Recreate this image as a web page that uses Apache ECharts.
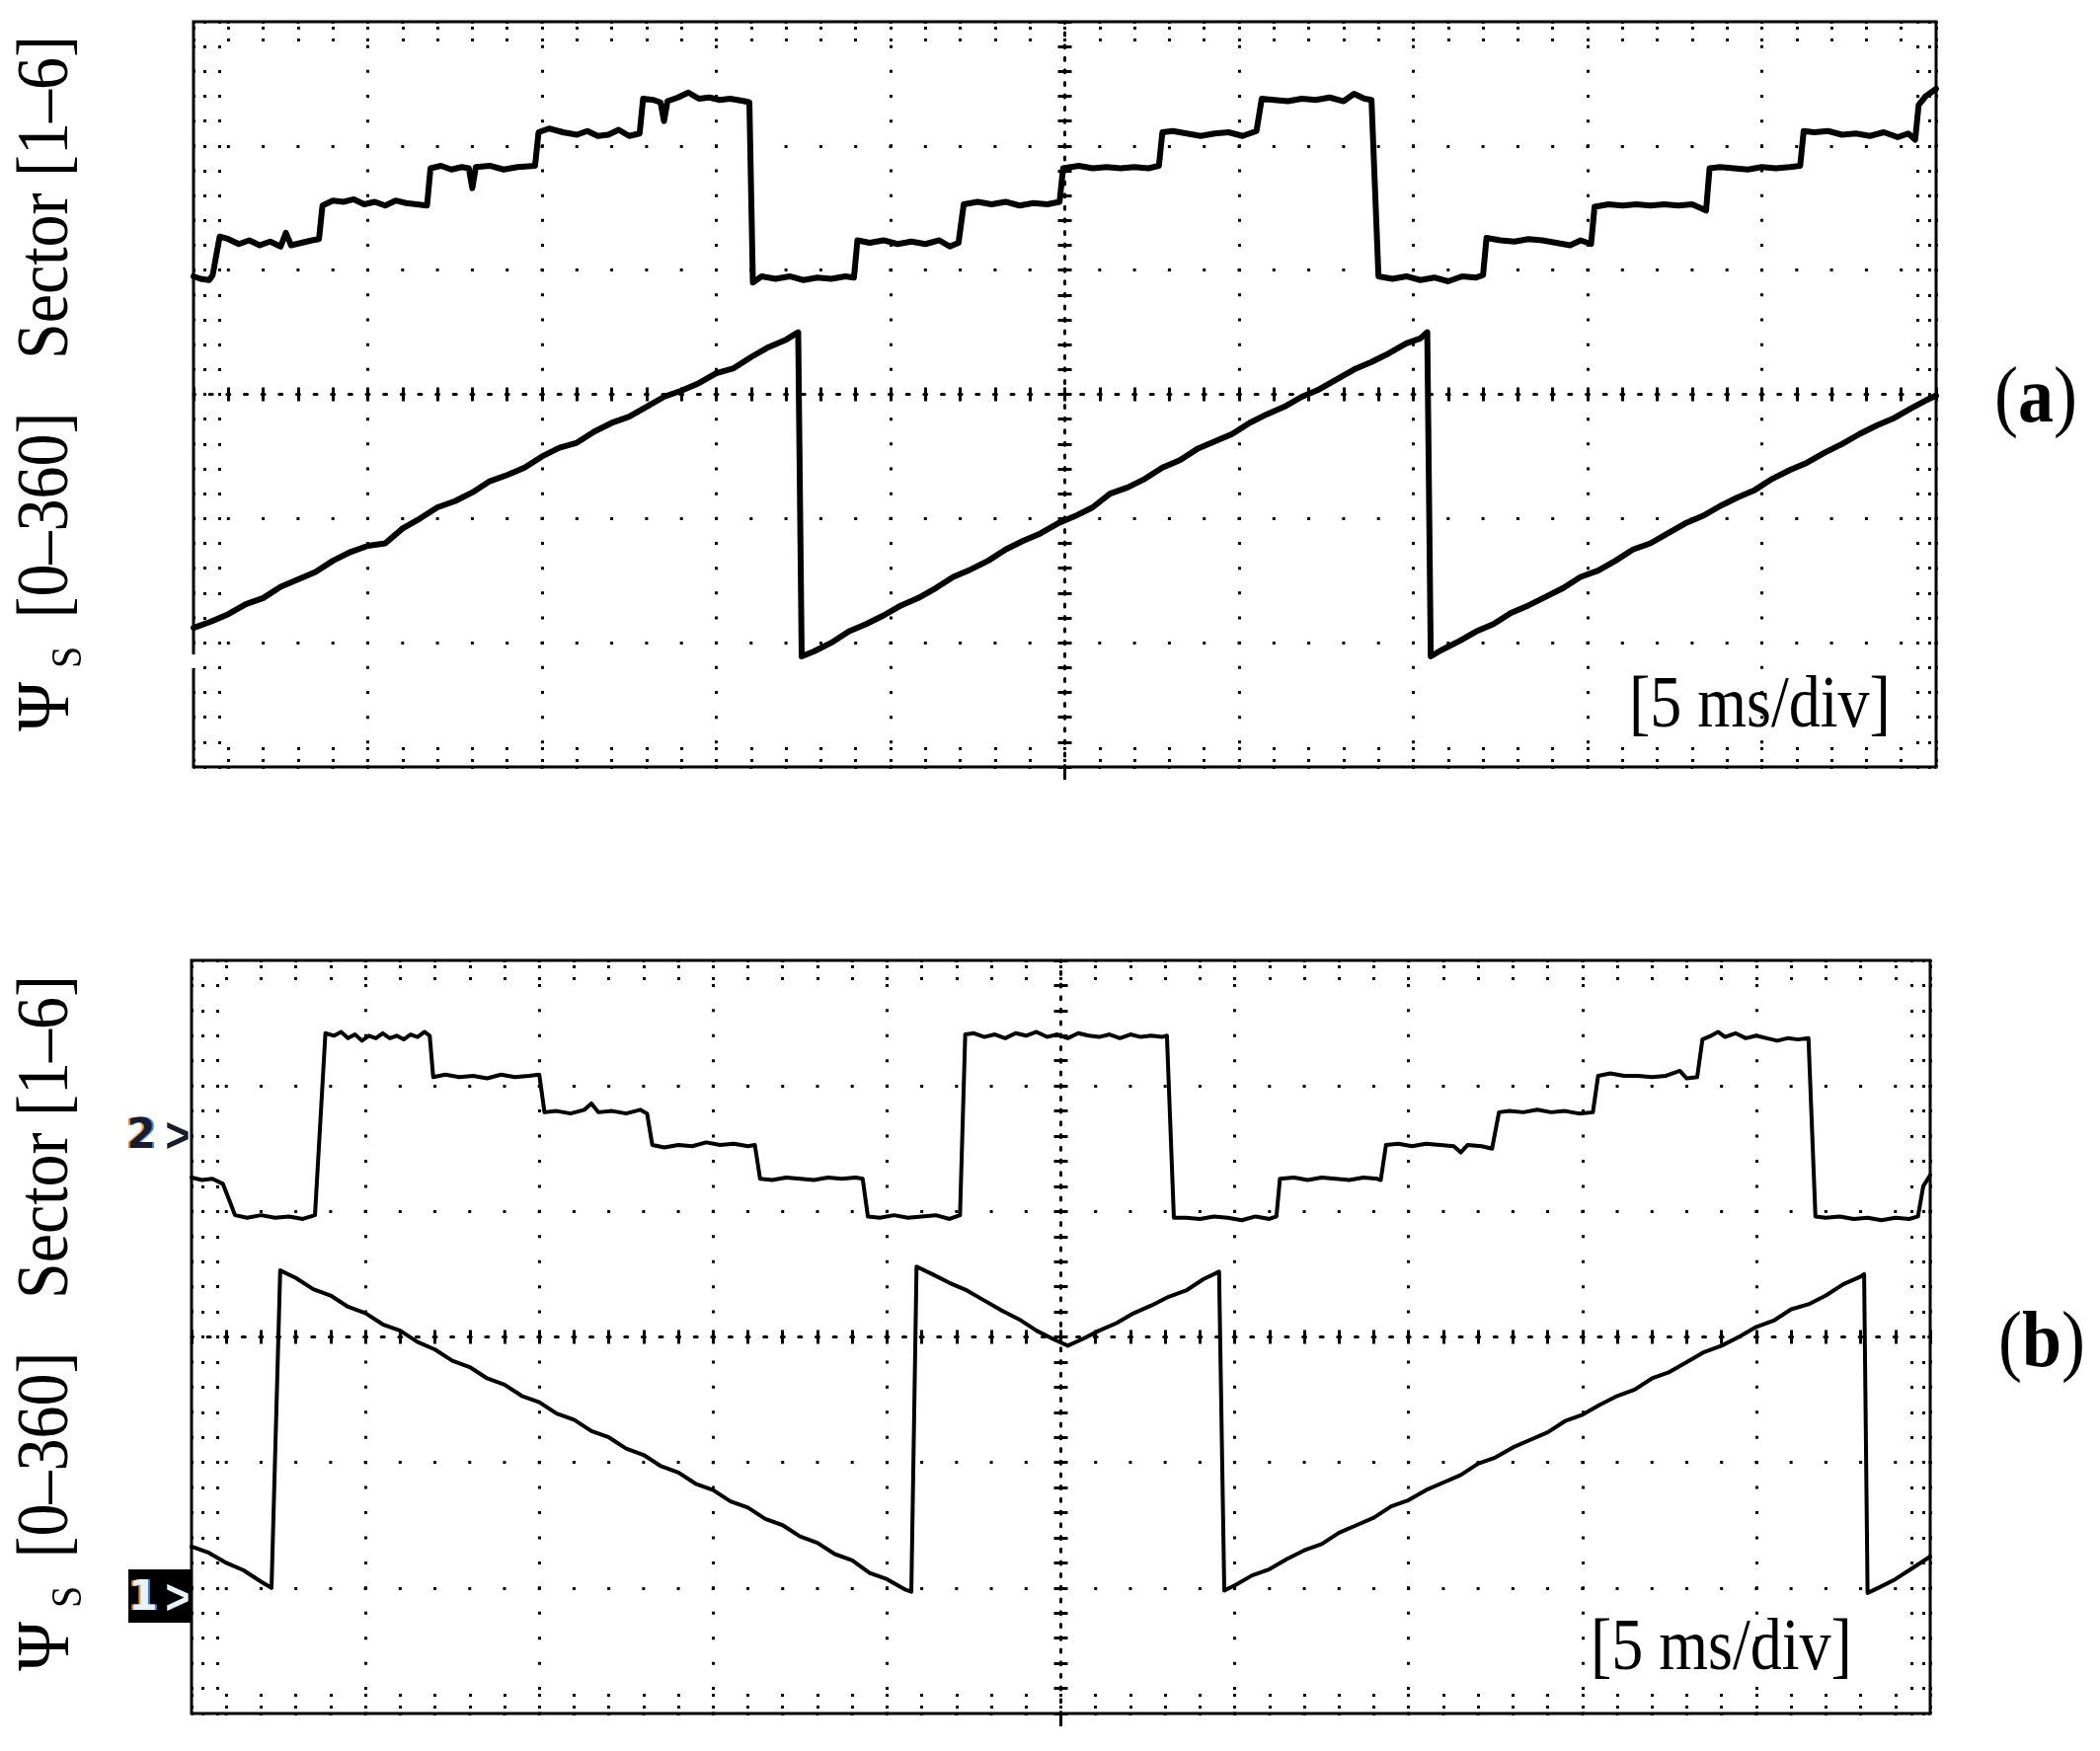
<!DOCTYPE html>
<html>
<head>
<meta charset="utf-8">
<script src="https://cdn.jsdelivr.net/npm/echarts/dist/echarts.min.js"></script>
<style>
  html, body { margin: 0; padding: 0; background: #fff; }
  #chart { width: 2127px; height: 1774px; }
</style>
</head>
<body>
<div id="chart"></div>
<script>
// time in ms (5 ms/div, 10 div), level in screen divisions (0..6)
const sectorA = [
  [0, 3.95], [0.2, 3.93], [0.45, 3.92], [0.55, 3.96], [0.75, 4.27],
  [1.0, 4.25], [1.3, 4.21], [1.6, 4.24], [1.9, 4.2], [2.2, 4.23], [2.5, 4.19], [2.65, 4.3], [2.8, 4.2], [3.1, 4.22], [3.4, 4.24], [3.6, 4.25],
  [3.7, 4.52], [4.0, 4.56], [4.3, 4.55], [4.6, 4.57], [4.9, 4.53], [5.2, 4.55], [5.5, 4.52], [5.8, 4.56], [6.1, 4.54], [6.4, 4.53], [6.7, 4.52],
  [6.8, 4.82], [7.1, 4.84], [7.4, 4.81], [7.7, 4.83], [7.9, 4.82], [8.0, 4.66], [8.1, 4.83], [8.5, 4.84], [8.9, 4.81], [9.3, 4.83], [9.8, 4.84],
  [9.9, 5.11], [10.2, 5.14], [10.6, 5.11], [11.0, 5.09], [11.3, 5.12], [11.6, 5.08], [11.9, 5.09], [12.2, 5.13], [12.5, 5.08], [12.8, 5.1],
  [12.9, 5.38], [13.2, 5.37], [13.4, 5.35], [13.5, 5.2], [13.6, 5.36], [13.9, 5.39], [14.2, 5.43], [14.5, 5.38], [14.8, 5.39], [15.1, 5.37], [15.4, 5.38], [15.8, 5.36], [15.95, 5.35],
  [16.05, 3.9], [16.3, 3.95], [16.7, 3.93], [17.1, 3.95], [17.5, 3.92], [17.9, 3.94], [18.3, 3.93], [18.7, 3.95], [18.95, 3.94],
  [19.05, 4.24], [19.4, 4.22], [19.8, 4.24], [20.2, 4.21], [20.6, 4.23], [21.0, 4.21], [21.4, 4.24], [21.7, 4.19], [21.95, 4.22],
  [22.1, 4.53], [22.5, 4.55], [22.9, 4.53], [23.3, 4.55], [23.7, 4.52], [24.1, 4.54], [24.5, 4.53], [24.85, 4.55],
  [24.95, 4.82], [25.4, 4.84], [25.8, 4.82], [26.2, 4.83], [26.6, 4.82], [27.0, 4.83], [27.4, 4.82], [27.7, 4.84],
  [27.8, 5.11], [28.1, 5.12], [28.5, 5.1], [28.9, 5.08], [29.3, 5.1], [29.7, 5.11], [30.1, 5.08], [30.5, 5.12],
  [30.65, 5.38], [31.0, 5.37], [31.4, 5.36], [31.8, 5.38], [32.2, 5.37], [32.6, 5.39], [33.0, 5.36], [33.3, 5.42], [33.6, 5.38], [33.8, 5.37],
  [34.0, 3.95], [34.4, 3.93], [34.8, 3.95], [35.2, 3.92], [35.6, 3.94], [36.0, 3.91], [36.4, 3.95], [36.8, 3.94], [37.0, 3.96],
  [37.1, 4.26], [37.5, 4.24], [37.9, 4.23], [38.3, 4.25], [38.7, 4.24], [39.1, 4.22], [39.5, 4.2], [39.8, 4.24], [40.1, 4.21],
  [40.2, 4.51], [40.6, 4.53], [41.0, 4.52], [41.4, 4.53], [41.8, 4.52], [42.2, 4.53], [42.6, 4.52], [43.0, 4.53], [43.4, 4.48],
  [43.5, 4.82], [43.8, 4.83], [44.2, 4.82], [44.6, 4.81], [45.0, 4.83], [45.4, 4.82], [45.8, 4.83], [46.1, 4.84],
  [46.2, 5.12], [46.5, 5.11], [46.9, 5.12], [47.3, 5.09], [47.7, 5.1], [48.1, 5.08], [48.5, 5.11], [48.9, 5.07], [49.2, 5.1], [49.4, 5.05],
  [49.5, 5.33], [49.7, 5.4], [50, 5.46]
];

const psiA = [
  [0, 1.12], [0.5, 1.17], [1, 1.23], [1.5, 1.31], [2, 1.36], [2.5, 1.45], [3, 1.51], [3.5, 1.57], [4, 1.66], [4.5, 1.73],
  [5, 1.78], [5.5, 1.8], [6, 1.92], [6.5, 2.0], [7, 2.09], [7.5, 2.14], [8, 2.21], [8.5, 2.3], [9, 2.35], [9.5, 2.41],
  [10, 2.5], [10.5, 2.57], [11, 2.61], [11.5, 2.7], [12, 2.77], [12.5, 2.82], [13, 2.9], [13.5, 2.98], [14, 3.03], [14.5, 3.09],
  [15, 3.17], [15.5, 3.21], [16, 3.3], [16.5, 3.38], [17, 3.44], [17.35, 3.5],
  [17.45, 0.89],
  [17.8, 0.93], [18.3, 1.0], [18.8, 1.09], [19.3, 1.15], [19.8, 1.22], [20.3, 1.3], [20.8, 1.36], [21.3, 1.44], [21.8, 1.53],
  [22.3, 1.59], [22.8, 1.66], [23.3, 1.75], [23.8, 1.82], [24.3, 1.88], [24.8, 1.96], [25.3, 2.02], [25.8, 2.09], [26.3, 2.2],
  [26.8, 2.25], [27.3, 2.32], [27.8, 2.41], [28.3, 2.47], [28.8, 2.56], [29.3, 2.62], [29.8, 2.68], [30.3, 2.77], [30.8, 2.84],
  [31.3, 2.9], [31.8, 2.98], [32.3, 3.04], [32.8, 3.12], [33.3, 3.2], [33.8, 3.26], [34.3, 3.33], [34.8, 3.41], [35.2, 3.45], [35.4, 3.5],
  [35.5, 0.89],
  [35.8, 0.94], [36.3, 1.01], [36.8, 1.09], [37.3, 1.15], [37.8, 1.24], [38.3, 1.3], [38.8, 1.37], [39.3, 1.44], [39.8, 1.53],
  [40.3, 1.58], [40.8, 1.66], [41.3, 1.75], [41.8, 1.8], [42.3, 1.88], [42.8, 1.96], [43.3, 2.02], [43.8, 2.1], [44.3, 2.17],
  [44.8, 2.23], [45.3, 2.32], [45.8, 2.39], [46.3, 2.45], [46.8, 2.53], [47.3, 2.6], [47.8, 2.68], [48.3, 2.75], [48.8, 2.81],
  [49.3, 2.89], [49.7, 2.95], [50, 2.99]
];

const sectorB = [
  [0, 4.27], [0.3, 4.25], [0.6, 4.26], [0.9, 4.22], [1.1, 4.08], [1.25, 3.97],
  [1.6, 3.95], [2.0, 3.97], [2.4, 3.95], [2.8, 3.96], [3.2, 3.94], [3.55, 3.97],
  [3.85, 5.42], [4.1, 5.4], [4.3, 5.43], [4.5, 5.38], [4.7, 5.41], [4.9, 5.36], [5.1, 5.4], [5.3, 5.38], [5.5, 5.42], [5.7, 5.38],
  [5.9, 5.4], [6.1, 5.37], [6.3, 5.41], [6.5, 5.39], [6.7, 5.43], [6.85, 5.4],
  [6.95, 5.07], [7.3, 5.09], [7.7, 5.07], [8.1, 5.08], [8.5, 5.06], [8.9, 5.09], [9.3, 5.07], [9.7, 5.08], [10.0, 5.09],
  [10.15, 4.79], [10.5, 4.8], [10.9, 4.78], [11.3, 4.81], [11.5, 4.86], [11.7, 4.79], [12.1, 4.8], [12.5, 4.78], [12.9, 4.81], [13.1, 4.78],
  [13.25, 4.53], [13.6, 4.51], [14.0, 4.53], [14.4, 4.52], [14.8, 4.55], [15.2, 4.53], [15.6, 4.54], [16.0, 4.52], [16.2, 4.53],
  [16.35, 4.26], [16.7, 4.25], [17.1, 4.27], [17.5, 4.26], [17.9, 4.25], [18.3, 4.27], [18.7, 4.26], [19.1, 4.27], [19.3, 4.26],
  [19.45, 3.96], [19.8, 3.95], [20.2, 3.97], [20.6, 3.95], [21.0, 3.96], [21.4, 3.97], [21.8, 3.94], [22.1, 3.97],
  [22.25, 5.41], [22.5, 5.42], [22.8, 5.39], [23.1, 5.41], [23.4, 5.38], [23.7, 5.42], [24.0, 5.4], [24.3, 5.43], [24.6, 5.39],
  [24.9, 5.41], [25.2, 5.38], [25.5, 5.42], [25.8, 5.4], [26.1, 5.39], [26.4, 5.41], [26.7, 5.38], [27.0, 5.41], [27.3, 5.39],
  [27.6, 5.4], [27.9, 5.39], [28.05, 5.4],
  [28.25, 3.95], [28.6, 3.95], [29.0, 3.94], [29.4, 3.96], [29.8, 3.95], [30.2, 3.93], [30.6, 3.96], [31.0, 3.94], [31.2, 3.96],
  [31.3, 4.26], [31.7, 4.27], [32.1, 4.25], [32.5, 4.27], [32.9, 4.26], [33.3, 4.25], [33.7, 4.27], [34.1, 4.26], [34.2, 4.25],
  [34.35, 4.53], [34.7, 4.54], [35.1, 4.52], [35.5, 4.54], [35.9, 4.53], [36.3, 4.52], [36.5, 4.47], [36.7, 4.53], [37.1, 4.52], [37.4, 4.5],
  [37.6, 4.79], [37.9, 4.8], [38.3, 4.79], [38.7, 4.81], [39.1, 4.79], [39.5, 4.8], [39.9, 4.78], [40.3, 4.79],
  [40.45, 5.08], [40.8, 5.1], [41.2, 5.08], [41.6, 5.08], [42.0, 5.07], [42.4, 5.08], [42.8, 5.12], [43.0, 5.06], [43.3, 5.07],
  [43.45, 5.37], [43.7, 5.4], [43.9, 5.43], [44.1, 5.39], [44.4, 5.42], [44.7, 5.38], [45.0, 5.4], [45.3, 5.38], [45.6, 5.36],
  [45.9, 5.38], [46.2, 5.37], [46.5, 5.38],
  [46.7, 3.96], [47.0, 3.95], [47.4, 3.96], [47.8, 3.94], [48.2, 3.95], [48.6, 3.93], [49.0, 3.95], [49.4, 3.94], [49.65, 3.96],
  [49.8, 4.2], [50, 4.29]
];

const psiB = [
  [0, 1.33], [0.5, 1.28], [1, 1.2], [1.5, 1.14], [2, 1.05], [2.3, 1.0],
  [2.55, 3.53],
  [3, 3.47], [3.5, 3.38], [4, 3.33], [4.5, 3.24], [5, 3.19], [5.5, 3.1], [6, 3.05], [6.5, 2.96], [7, 2.9], [7.5, 2.81],
  [8, 2.76], [8.5, 2.67], [9, 2.62], [9.5, 2.53], [10, 2.48], [10.5, 2.39], [11, 2.34], [11.5, 2.25], [12, 2.2], [12.5, 2.11],
  [13, 2.06], [13.5, 1.97], [14, 1.92], [14.5, 1.83], [15, 1.78], [15.5, 1.69], [16, 1.64], [16.5, 1.55], [17, 1.5], [17.5, 1.41],
  [18, 1.36], [18.5, 1.27], [19, 1.22], [19.5, 1.12], [20, 1.07], [20.5, 0.99], [20.7, 0.97],
  [20.85, 3.56],
  [21.3, 3.5], [21.8, 3.43], [22.3, 3.37], [22.8, 3.29], [23.3, 3.21], [23.8, 3.14], [24.3, 3.05], [24.8, 2.98], [25.2, 2.93],
  [25.6, 2.98], [26.1, 3.05], [26.6, 3.11], [27.1, 3.19], [27.6, 3.25], [28.1, 3.32], [28.6, 3.37], [29.1, 3.46], [29.55, 3.52],
  [29.7, 0.98],
  [30, 1.02], [30.5, 1.1], [31, 1.15], [31.5, 1.23], [32, 1.3], [32.5, 1.35], [33, 1.44], [33.5, 1.5], [34, 1.56], [34.5, 1.65],
  [35, 1.7], [35.5, 1.78], [36, 1.84], [36.5, 1.9], [37, 1.99], [37.5, 2.04], [38, 2.12], [38.5, 2.18], [39, 2.24], [39.5, 2.33],
  [40, 2.38], [40.5, 2.46], [41, 2.53], [41.5, 2.58], [42, 2.67], [42.5, 2.72], [43, 2.8], [43.5, 2.88], [44, 2.93], [44.5, 3.0],
  [45, 3.08], [45.5, 3.13], [46, 3.22], [46.5, 3.26], [47, 3.33], [47.5, 3.42], [48, 3.48], [48.1, 3.5],
  [48.2, 0.96],
  [48.5, 1.0], [49, 1.07], [49.5, 1.16], [50, 1.25]
];

// screen: 10 div x 6 div
const X_MAX = 50, X_DIV = 5;
const Y_MAX = 6, Y_DIV = 1;

const GRID_A = { left: 196, top: 22, width: 1765, height: 755 };
const GRID_B = { left: 194, top: 973, width: 1761, height: 763 };

const SERIF = '"Liberation Serif", "Times New Roman", serif';

// dotted styles for the scope graticule
function dots(period, w) {
  return { color: '#000', width: w || 3, type: [3, period - 3], dashOffset: 1.5 };
}
function borderTick(len, dash, off) {
  const ls = { color: '#000', width: 3, type: dash, dashOffset: off };
  return {
    axisTick: { show: true, inside: true, length: len, lineStyle: ls },
    minorTick: { show: true, splitNumber: 5, length: len, lineStyle: ls }
  };
}
function centerTick(inside) {
  const ls = { color: '#000', width: 3 };
  return {
    axisTick: { show: true, inside: inside, length: 7, lineStyle: ls },
    minorTick: { show: true, splitNumber: 5, length: 7, lineStyle: ls }
  };
}

function axesFor(g, gi) {
  const mx = g.width / 50;   // minor step along x (px)
  const my = g.height / 30;  // minor step along y (px)
  const bx = {
    type: 'value', gridIndex: gi, min: 0, max: X_MAX, interval: X_DIV,
    axisLabel: { show: false }, axisLine: { show: false, onZero: false },
    splitLine: { show: false }
  };
  const by = {
    type: 'value', gridIndex: gi, min: 0, max: Y_MAX, interval: Y_DIV,
    axisLabel: { show: false }, axisLine: { show: false, onZero: false },
    splitLine: { show: false }
  };
  const xs = [
    Object.assign({}, bx, { position: 'bottom', splitLine: { show: true, lineStyle: dots(my) } }, borderTick(20, [3, 9], 7)),
    Object.assign({}, bx, { position: 'top' }, borderTick(20, [3, 9], 7)),
    Object.assign({}, bx, { position: 'bottom', offset: -g.height / 2,
      axisLine: { show: true, onZero: false, lineStyle: dots(mx / 2) } }, centerTick(true)),
    Object.assign({}, bx, { position: 'bottom', offset: -g.height / 2 }, centerTick(false))
  ];
  const ys = [
    Object.assign({}, by, { position: 'left', splitLine: { show: true, lineStyle: dots(mx) } }, borderTick(28, [3, 12], 5)),
    Object.assign({}, by, { position: 'right' }, borderTick(22, [3, 9], 7)),
    Object.assign({}, by, { position: 'left', offset: -g.width / 2,
      axisLine: { show: true, onZero: false, lineStyle: dots(my / 2) } }, centerTick(true)),
    Object.assign({}, by, { position: 'left', offset: -g.width / 2 }, centerTick(false))
  ];
  return { xs, ys };
}

const axA = axesFor(GRID_A, 0);
const axB = axesFor(GRID_B, 1);

function trace(data, xi, yi, w) {
  return {
    type: 'line', data: data, xAxisIndex: xi, yAxisIndex: yi,
    showSymbol: false, symbol: 'none', silent: true,
    lineStyle: { color: '#000', width: w, join: 'round', cap: 'round' }
  };
}

function txt(x, y, text, size, opts) {
  return Object.assign({
    type: 'text', x: x, y: y, z: 100,
    style: Object.assign({
      text: text, fill: '#000', font: size + 'px ' + SERIF,
      textAlign: 'center', textVerticalAlign: 'middle'
    }, (opts && opts.style) || {})
  }, (opts && opts.el) || {});
}
const R90 = { el: { rotation: Math.PI / 2, scaleY: 1.12 } };

function yLabel(dy) {
  return [
    txt(49, 200 + dy, 'Sector [1–6]', 66, R90),
    txt(49, 522 + dy, '[0–360]', 66, R90),
    txt(49, 716 + dy, 'Ψ', 68, R90),
    txt(70, 666 + dy, 'S', 40, R90)
  ];
}

function panelTag(x, y, letter) {
  return {
    type: 'text', x: x, y: y, z: 100, scaleY: 1.12,
    style: {
      text: '({b|' + letter + '})', fill: '#000', font: '72px ' + SERIF,
      textAlign: 'center', textVerticalAlign: 'middle',
      rich: { b: { fontWeight: 'bold', fontSize: 72, fontFamily: SERIF } }
    }
  };
}

function marker(x, y, digit, fill) {
  const f = 'bold 42px "DejaVu Sans"';
  const base = { textAlign: 'center', textVerticalAlign: 'middle', font: f };
  return [
    { type: 'text', x: x - 2, y: y, z: 100, style: Object.assign({ text: digit, fill: '#e0933c' }, base) },
    { type: 'text', x: x + 2, y: y, z: 100, style: Object.assign({ text: digit, fill: '#3c86e0' }, base) },
    { type: 'text', x: x, y: y, z: 101, style: Object.assign({ text: digit, fill: fill }, base) },
    { type: 'text', x: 180, y: y + 1, z: 101, scaleX: 0.85, style: { text: '>', fill: fill, font: 'bold 50px "Liberation Sans"', textAlign: 'center', textVerticalAlign: 'middle' } }
  ];
}

const chart = echarts.init(document.getElementById('chart'));
chart.setOption({
  backgroundColor: '#fff',
  animation: false,
  grid: [
    Object.assign({ show: true, borderColor: '#000', borderWidth: 3, outerBoundsMode: 'none' }, GRID_A),
    Object.assign({ show: true, borderColor: '#000', borderWidth: 3, outerBoundsMode: 'none' }, GRID_B)
  ],
  xAxis: axA.xs.concat(axB.xs),
  yAxis: axA.ys.concat(axB.ys),
  series: [
    trace(sectorA, 0, 0, 6),
    trace(psiA, 0, 0, 6),
    trace(sectorB, 4, 4, 4),
    trace(psiB, 4, 4, 4)
  ],
  graphic: [].concat(
    yLabel(0),
    yLabel(952),
    [
      panelTag(2062, 406, 'a'),
      panelTag(2068, 1363, 'b'),
      txt(1650, 717, '[5 ms/div]', 64, { style: { textAlign: 'left' }, el: { scaleY: 1.15 } }),
      txt(1611, 1672, '[5 ms/div]', 64, { style: { textAlign: 'left' }, el: { scaleY: 1.15 } }),
      // gap in the left frame of (a)
      { type: 'rect', z: 100, shape: { x: 192, y: 663, width: 8, height: 14 }, style: { fill: '#fff' } },
      // small ticks under the frames at the centre line
      { type: 'line', z: 100, shape: { x1: 1078.5, y1: 777, x2: 1078.5, y2: 790 }, style: { stroke: '#000', lineWidth: 3 } },
      { type: 'line', z: 100, shape: { x1: 1074.5, y1: 1736, x2: 1074.5, y2: 1749 }, style: { stroke: '#000', lineWidth: 3 } },
      // channel-1 marker box in (b)
      { type: 'rect', z: 99, shape: { x: 130, y: 1590, width: 64, height: 54 }, style: { fill: '#000' } }
    ],
    marker(143, 1152, '2', '#1a1a2e'),
    marker(145, 1620, '1', '#e8f3ff')
  )
});
</script>
</body>
</html>
